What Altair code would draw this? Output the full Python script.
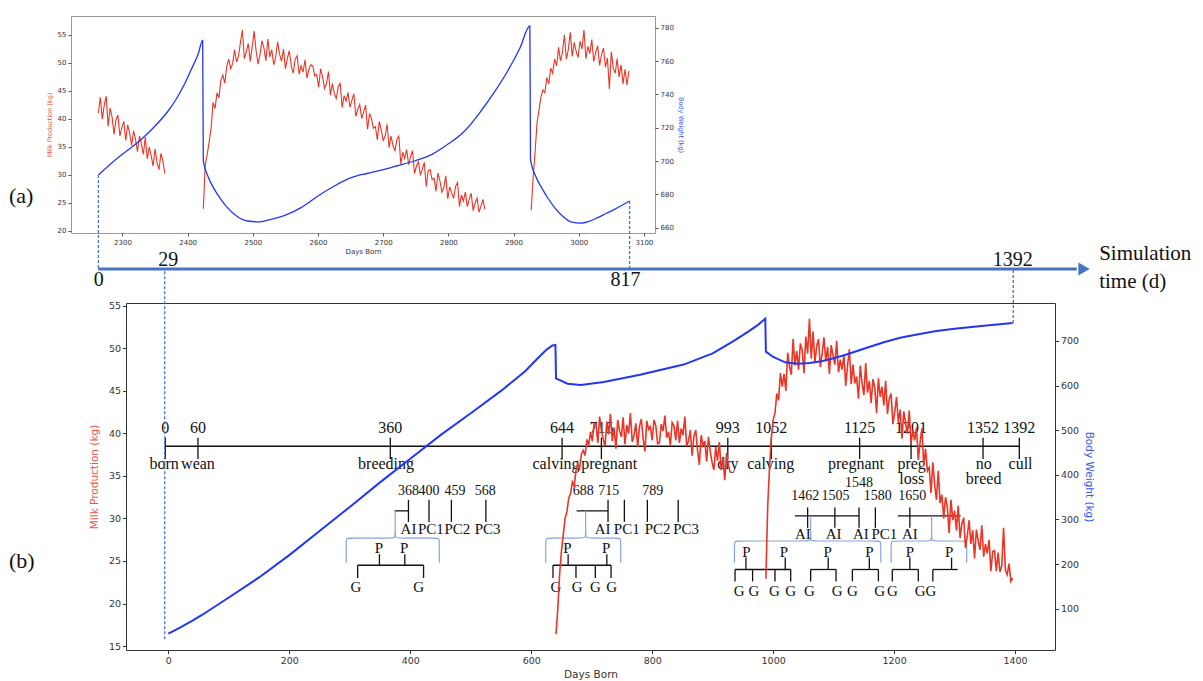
import altair as alt
import pandas as pd

RED = "#ea3527"
BLUE = "#2137f4"
RED_T = "#ee5246"
BLUE_T = "#3a55f2"
GUIDE = "#4673c6"
BRACE = "#86a3db"
INK = "#111111"
AXC = "#333333"
SERIF = "Liberation Serif"
SANS = "DejaVu Sans"

# ======================= panel (a) data =======================
a_bw_day = [2263, 2293, 2310, 2329, 2350, 2370, 2383, 2395, 2405, 2416, 2423, 2424, 2432, 2441,
            2451, 2461, 2475, 2492, 2510, 2523, 2550, 2574, 2600, 2625, 2651, 2675, 2697, 2720,
            2748, 2775, 2799, 2825, 2850, 2870, 2891, 2910, 2925, 2926, 2935, 2943, 2953, 2963,
            2975, 2988, 3003, 3016, 3029, 3042, 3055, 3078]
a_bw = [691.6, 702, 707, 713, 721, 730, 737.5, 746, 754.5, 764, 772.4, 700, 690, 683,
        677, 672, 667, 664, 663.5, 664.5, 667.5, 672, 679, 685, 690, 692.5, 694.5, 697,
        700, 704, 710, 718, 730, 741, 754, 768, 781, 701, 690, 684, 677.5, 672,
        667, 663.5, 662.7, 663.8, 666, 668.5, 671, 676]

a_milk_start = [2263, 2424, 2927]
a_milk_step = 3
a_milk_seg1 = [41.0, 43.8, 39.9, 42.4, 44.0, 38.6, 41.9, 40.3, 37.2, 39.8, 40.6, 36.9, 38.4,
               39.5, 36.1, 38.9, 37.4, 35.2, 37.8, 36.3, 34.1, 36.9, 35.5, 33.6, 36.7, 32.8,
               34.9, 33.4, 31.5, 34.6, 32.1, 30.9, 33.8, 32.4, 30.2]
a_milk_seg2 = [23.9, 31.8, 33.6, 35.9, 38.4, 42.9, 41.8, 44.6, 43.7, 46.9, 47.8, 46.3, 49.4,
               50.6, 48.9, 49.8, 52.3, 50.1, 51.2, 53.6, 55.8, 50.7, 51.9, 53.4, 50.2, 52.8,
               55.6, 52.1, 49.7, 51.4, 53.9, 52.6, 50.3, 54.2, 51.0, 52.3, 49.6, 50.9, 53.7,
               51.5, 50.2, 52.4, 48.9, 50.8, 52.1, 49.3, 48.1, 50.6, 51.2, 47.9, 49.4, 48.3,
               50.5, 47.2, 48.8, 49.6,
               49.4, 47.6, 47.9, 45.6, 48.9, 47.4, 45.4, 46.3, 48.4, 44.2, 46.3, 44.5, 43.6,
               45.7, 46.3, 42.0, 44.1, 43.1, 44.7, 42.0, 43.3, 44.4, 40.4, 41.7, 42.5, 40.0,
               41.2, 42.4, 38.1, 40.9,
               40.0, 38.3, 38.6, 36.2, 39.5, 38.0, 36.1, 36.9, 39.0, 34.8, 36.9, 35.2, 34.2,
               36.3, 36.9,
               31.9, 34.0, 32.9, 34.5, 31.8, 33.2, 34.3, 30.2, 31.5, 32.3, 29.9, 31.0, 32.2,
               27.9, 30.7, 30.9, 29.1, 29.4, 27.0, 30.3, 28.9, 26.9, 27.7, 29.8, 25.7, 27.8,
               26.8, 25.8, 27.9, 28.6, 24.3, 26.4, 25.3, 26.9, 24.3, 25.6,
               26.7, 23.6, 24.9, 25.8, 23.3, 24.4, 25.6, 23.8]
a_milk_seg3 = [23.6, 29.4, 34.0, 39.2, 41.5, 43.9, 45.1, 44.6, 47.3, 46.2, 49.0, 48.1, 50.6,
               49.4, 52.7, 50.3, 51.8, 54.9, 50.6, 52.3, 55.4, 51.1, 53.6, 52.0, 50.9, 53.8,
               52.4, 55.8, 50.7, 52.9, 51.6, 54.1, 50.2, 51.8, 53.0, 49.5, 51.4, 52.6, 49.2,
               50.8, 45.3, 51.9, 49.0, 48.1, 50.7, 47.4, 49.6, 46.2, 48.8, 46.0, 48.5]

a_guide_day = [2263, 3078]
a_guide_bw = [691.6, 676.0]

# ======================= panel (b) data =======================
b_bw_day = [0, 20, 40, 57, 100, 150, 200, 250, 300, 350, 400, 450, 500, 550, 590, 610, 625,
            635, 640, 641, 660, 682, 720, 780, 852, 900, 935, 960, 975, 987, 988, 1000,
            1020, 1040, 1060, 1080, 1100, 1120, 1140, 1160, 1183, 1210, 1240, 1270, 1300,
            1340, 1396]
b_bw = [44, 58, 73, 87, 125, 170, 220, 274, 328, 383, 436, 489, 538, 588, 632, 660, 680,
        690, 691, 616, 604, 601, 608, 624, 647, 672, 700, 722, 736, 750, 676, 664,
        652, 649, 650.5, 654.5, 661, 669, 678, 687, 697, 707, 715, 722, 727.5,
        733, 740]

b_milk_start = [641, 988]
b_milk_step = 3
b_milk_lac1 = [16.4, 19.5, 23.5, 26.2, 28.1, 30.0, 30.8, 32.4, 32.9, 34.3, 33.8, 35.6, 36.4,
               35.9, 37.6, 38.0, 37.4, 39.3, 38.6, 40.2, 39.1, 41.2,
               41.1, 38.9, 42.0, 40.4, 39.3, 38.5, 41.4, 39.9, 42.3, 39.1, 40.7, 38.2, 41.6,
               40.3, 39.6, 41.9, 38.7, 41.0, 40.0, 42.4, 39.0, 39.8, 41.2, 38.4, 40.8, 41.7,
               39.4, 37.9, 41.5, 40.5,
               40.8, 39.2, 41.6, 40.9, 38.8, 38.9, 41.1, 40.3, 42.1, 39.5, 40.2, 38.6, 41.3,
               40.9, 39.2, 41.5, 38.9, 40.6,
               39.8, 42.0, 38.5, 39.1, 40.4, 37.4, 39.7, 40.4, 38.0, 36.3, 39.8, 38.6, 39.1,
               36.7, 39.6, 37.9, 36.6, 35.7, 38.4, 36.8, 39.0, 35.7, 37.1, 34.5, 37.7, 36.3,
               35.4]
b_milk_lac2 = [22.9, 31.5, 36.0, 39.5, 41.6, 42.4, 44.7, 43.9,
               47.1, 45.5, 47.0, 45.0, 49.5, 47.9, 46.9, 51.1, 48.0, 49.7, 47.5, 50.6, 49.8,
               47.1, 51.4, 49.4, 53.5, 48.8, 52.0, 48.3, 50.3, 51.1, 47.8, 49.4, 51.3, 48.5,
               50.2, 47.0, 50.4, 49.2, 48.1, 50.9, 47.2, 48.7, 47.5, 49.2, 45.6, 48.0, 49.9,
               45.8,
               48.1, 45.9, 46.7, 44.1, 48.0, 45.9, 44.5, 48.3, 44.8, 46.2, 43.6, 46.4, 45.4,
               42.4, 46.5, 44.3, 45.5, 43.3, 46.2, 42.3, 44.1, 44.7, 41.1, 42.5, 44.3, 41.3,
               42.8, 39.4, 42.6, 41.2, 40.0, 42.7, 38.9, 40.4, 39.2, 40.7, 36.9, 39.0, 40.6,
               36.2,
               38.2, 35.6, 36.0, 33.0, 36.6, 34.0, 32.2, 35.6, 31.8, 32.8, 30.0, 32.5, 31.3,
               28.3, 32.2, 29.8, 30.9, 28.6, 31.5, 27.7, 29.4, 30.1, 26.5, 28.0, 29.8, 27.0,
               28.6, 25.3, 28.7, 27.4, 26.3, 29.2, 25.5, 27.0, 25.9, 27.5, 23.8, 26.1, 26.2,
               23.8, 26.0, 23.7, 24.4, 28.9, 23.9, 23.4, 24.7, 22.6, 23.0]

# life-event timeline inside (b): label, drawn position (d)
ev_num = ["0", "60", "360", "644", "715", "993", "1052", "1125", "1201", "1352", "1392"]
ev_pos = [-5, 49, 367, 651, 716, 925, 997, 1143, 1228, 1347, 1407]
ev_name = ["born", "wean", "breeding", "calving", "pregnant", "dry", "calving", "pregnant",
           "preg\nloss", "no\nbreed", "cull"]
ev_name_pos = [-7, 49, 360, 641, 729, 925, 996, 1137, 1229, 1348, 1409]
ev_line_kg, ev_tick_top, ev_tick_bot, ev_num_kg, ev_name_kg = 38.5, 39.5, 37.0, 40.7, 37.35

# breeding sub-events
sub_num = ["368", "400", "459", "568", "688", "715", "789", "1462", "1505", "1548", "1580", "1650"]
sub_num_pos = [397, 431, 474, 524, 686, 728, 801, 1053, 1103, 1142, 1173, 1230]
sub_num_kg = [33.2] * 7 + [32.7, 32.7, 34.2, 32.7, 32.7]
sub_lab = ["AI", "PC1", "PC2", "PC3", "AI", "PC1", "PC2", "PC3", "AI", "AI", "AI", "PC1", "AI"]
sub_lab_pos = [397, 434, 478, 528, 718, 758, 809, 856, 1049, 1100, 1145, 1184, 1226]
sub_lab_kg = [28.8] * 8 + [28.2] * 5
sub_tick_pos = [397, 431, 468, 525, 727, 754, 792, 843, 1057, 1102, 1142, 1169, 1226]
sub_tick_top = [32.2] * 8 + [31.3] * 5
sub_tick_bot = [29.6] * 8 + [28.9] * 5
sub_bar_left = [374, 675, 1036, 1206]
sub_bar_right = [397, 727, 1142, 1310]
sub_bar_kg = [30.9, 30.9, 30.3, 30.3]

# braces
br_left = [294, 624, 936, 1195]
br_notch = [375, 690, 1062, 1262]
br_right = [448, 748, 1178, 1320]
br_top = [27.7, 27.7, 27.35, 27.35]
br_end = [24.8, 24.8, 24.8, 24.8]
br_tip = [30.9, 30.9, 30.3, 30.3]

# P / G trees
p_pos = [348, 390, 660, 724, 956, 1018, 1090, 1159, 1226, 1291]
p_kg = [26.5] * 4 + [26.1] * 6
p_tick_x = [349, 391, 661, 725, 955, 1020, 1091, 1159, 1226, 1295]
p_tick_top = [25.8] * 4 + [25.4] * 6
p_tick_bot = [24.5] * 4 + [24.0] * 6
g_bar_left = [313, 636, 937, 1062, 1131, 1197, 1264]
g_bar_right = [422, 732, 1029, 1104, 1174, 1240, 1305]
g_bar_kg = [24.5, 24.5, 24.0, 24.0, 24.0, 24.0, 24.0]
g_tick_x = [313, 422, 636, 674, 706, 732, 937, 966, 1003, 1029, 1062, 1104, 1131, 1174,
            1197, 1240, 1264]
g_tick_top = [24.5] * 6 + [24.0] * 11
g_tick_bot = [23.0] * 6 + [22.6] * 11
g_lab_x = [310, 414, 641, 676, 706, 733, 944, 968, 1002, 1029, 1060, 1106, 1131, 1176,
           1197, 1243, 1261]
g_lab_kg = [21.9] * 6 + [21.5] * 11

# simulation-time arrow
tl_start, tl_end, tl_head = -116, 1502, 1514
tl_below_txt, tl_below_pos = ["0", "817"], [-115, 756]
tl_above_txt, tl_above_pos = ["29", "1392"], [0, 1396]
tl_sim_pos = 1539
b_guide_day = [-6, 1397]
b_guide_kg = [15.8, 53.0]

# ======================= build tables =======================
a_bw_df = pd.DataFrame({"day": a_bw_day, "bw": a_bw})
rows = []
for s, (st, vals) in enumerate(zip(a_milk_start, [a_milk_seg1, a_milk_seg2, a_milk_seg3])):
    for i, v in enumerate(vals):
        rows.append({"day": st + a_milk_step * i, "milk": v, "seg": s})
a_milk_df = pd.DataFrame(rows)
a_guide_df = pd.DataFrame({"day": a_guide_day, "bw": a_guide_bw})

b_bw_df = pd.DataFrame({"day": b_bw_day, "bw": b_bw})
rows = []
for s, (st, vals) in enumerate(zip(b_milk_start, [b_milk_lac1, b_milk_lac2])):
    for i, v in enumerate(vals):
        rows.append({"day": st + b_milk_step * i, "milk": v, "seg": s})
b_milk_df = pd.DataFrame(rows)
b_guide_df = pd.DataFrame({"x": b_guide_day, "y": b_guide_kg})

segs = [(ev_pos[0], ev_pos[-1], ev_line_kg, ev_line_kg)]
segs += [(p, p, ev_tick_top, ev_tick_bot) for p in ev_pos]
segs += [(l, r, k, k) for l, r, k in zip(sub_bar_left, sub_bar_right, sub_bar_kg)]
segs += [(x, x, t, b) for x, t, b in zip(sub_tick_pos, sub_tick_top, sub_tick_bot)]
segs += [(x, x, t, b) for x, t, b in zip(p_tick_x, p_tick_top, p_tick_bot)]
segs += [(l, r, k, k) for l, r, k in zip(g_bar_left, g_bar_right, g_bar_kg)]
segs += [(x, x, t, b) for x, t, b in zip(g_tick_x, g_tick_top, g_tick_bot)]
seg_df = pd.DataFrame(segs, columns=["x", "x2", "y", "y2"])

brows = []
for b, (l, n, r, tp, en, tip) in enumerate(zip(br_left, br_notch, br_right, br_top, br_end, br_tip)):
    pts = [(l, en), (l, en), (l, tp - 0.7), (l, tp), (l + 6, tp), (n - 6, tp), (n, tp),
           (n, tp + 0.7), (n, tip), (n, tip), (n, tip), (n, tp + 0.7), (n, tp), (n + 6, tp),
           (r - 6, tp), (r, tp), (r, tp - 0.7), (r, en), (r, en)]
    for o, (x, y) in enumerate(pts):
        brows.append({"x": x, "y": y, "b": b, "o": o})
brace_df = pd.DataFrame(brows)

ev_num_df = pd.DataFrame({"x": ev_pos, "y": [ev_num_kg] * len(ev_pos), "t": ev_num})
ev_name_df = pd.DataFrame({"x": ev_name_pos, "y": [ev_name_kg] * len(ev_name_pos), "t": ev_name})
sub_num_df = pd.DataFrame({"x": sub_num_pos, "y": sub_num_kg, "t": sub_num})
lab15_df = pd.DataFrame({
    "x": sub_lab_pos + p_pos + g_lab_x,
    "y": sub_lab_kg + p_kg + g_lab_kg,
    "t": sub_lab + ["P"] * len(p_pos) + ["G"] * len(g_lab_x),
})

# ======================= panel (a) chart =======================
AXA_X = alt.Axis(values=list(range(2300, 3101, 100)), labelFontSize=7, titleFontSize=7,
                 titleFontWeight="normal", tickSize=3, labelPadding=2, titlePadding=2,
                 domain=False, grid=False, labelColor=AXC, titleColor=AXC, tickColor="#555",
                 labelFont=SANS, titleFont=SANS, format="d")
AXA_Y = alt.Axis(orient="left", values=list(range(20, 56, 5)), labelFontSize=7, titleFontSize=6.5,
                 titleFontWeight="normal", tickSize=3, labelPadding=2, titlePadding=5,
                 domain=False, grid=False, labelColor=AXC, titleColor=RED_T, tickColor="#555",
                 labelFont=SANS, titleFont=SANS)
AXA_R = alt.Axis(orient="right", values=list(range(660, 781, 20)), labelFontSize=7, titleFontSize=6.5,
                 titleFontWeight="normal", tickSize=3, labelPadding=2, titlePadding=4,
                 domain=False, grid=False, labelColor=AXC, titleColor=BLUE_T, tickColor="#555",
                 labelFont=SANS, titleFont=SANS)
XA_S = alt.Scale(domain=[2221, 3117], nice=False, zero=False)
YA_M = alt.Scale(domain=[19.6, 58.3], nice=False, zero=False)
YA_B = alt.Scale(domain=[656.8, 787], nice=False, zero=False)


def xa(f):
    return alt.X(f, scale=XA_S, axis=AXA_X, title="Days Born")


def ya_bw(f):
    return alt.Y(f, scale=YA_B, axis=AXA_R, title="Body Weight (kg)")


a_milk_layer = alt.Chart(a_milk_df).mark_line(color=RED, strokeWidth=1.1).encode(
    x=xa("day:Q"),
    y=alt.Y("milk:Q", scale=YA_M, axis=AXA_Y, title="Milk Production (kg)"),
    detail="seg:N")
a_bw_layer = alt.Chart(a_bw_df).mark_line(color=BLUE, strokeWidth=1.3, interpolate="monotone").encode(
    x=xa("day:Q"), y=ya_bw("bw:Q"))
a_guides = alt.Chart(a_guide_df).mark_rule(color=GUIDE, strokeWidth=1.3, strokeDash=[3, 2]).encode(
    x=xa("day:Q"), y=ya_bw("bw:Q"), y2=alt.value(253))
a_label = alt.Chart(pd.DataFrame({"t": ["(a)"]})).mark_text(
    font=SERIF, fontSize=22, align="left", baseline="middle", color=INK).encode(
    text="t:N", x=alt.value(-62), y=alt.value(180))

top = alt.layer(a_milk_layer, alt.layer(a_bw_layer, a_guides), a_label).resolve_scale(
    y="independent").properties(width=584, height=217, view=alt.ViewBackground(stroke="#999999"))

# ======================= panel (b) chart =======================
AXB_X = alt.Axis(values=list(range(0, 1401, 200)), labelFontSize=9.5, titleFontSize=10.5,
                 titleFontWeight="normal", tickSize=3.5, labelPadding=2, titlePadding=4,
                 domain=False, grid=False, labelColor=AXC, titleColor=AXC, tickColor=AXC,
                 labelFont=SANS, titleFont=SANS, format="d")
AXB_Y = alt.Axis(orient="left", values=list(range(15, 56, 5)), labelFontSize=9.5, titleFontSize=10.5,
                 titleFontWeight="normal", tickSize=3.5, labelPadding=2, titlePadding=9,
                 domain=False, grid=False, labelColor=AXC, titleColor=RED_T, tickColor=AXC,
                 labelFont=SANS, titleFont=SANS)
AXB_R = alt.Axis(orient="right", values=list(range(100, 701, 100)), labelFontSize=9.5, titleFontSize=10.5,
                 titleFontWeight="normal", tickSize=3.5, labelPadding=2, titlePadding=5,
                 domain=False, grid=False, labelColor=AXC, titleColor=BLUE_T, tickColor=AXC,
                 labelFont=SANS, titleFont=SANS)
XB_S = alt.Scale(domain=[-70, 1466], nice=False, zero=False)
YB_M = alt.Scale(domain=[14.53, 55.35], nice=False, zero=False)
YB_B = alt.Scale(domain=[7.4, 785], nice=False, zero=False)


def xb(f):
    return alt.X(f, scale=XB_S, axis=AXB_X, title="Days Born")


def yb(f):
    return alt.Y(f, scale=YB_M, axis=AXB_Y, title="Milk Production (kg)")


def txt(df, size, baseline="middle", align="center", line_height=16):
    return alt.Chart(df).mark_text(font=SERIF, fontSize=size, baseline=baseline, align=align,
                                   color=INK, lineBreak="\n", lineHeight=line_height).encode(
        x=xb("x:Q"), y=yb("y:Q"), text="t:N")


seg_layer = alt.Chart(seg_df).mark_rule(color=INK, strokeWidth=1.3).encode(
    x=xb("x:Q"), x2="x2:Q", y=yb("y:Q"), y2="y2:Q")
brace_layer = alt.Chart(brace_df).mark_line(color=BRACE, strokeWidth=1.2, interpolate="basis").encode(
    x=xb("x:Q"), y=yb("y:Q"), detail="b:N", order="o:Q")
ev_num_layer = txt(ev_num_df, 16)
ev_name_layer = txt(ev_name_df, 16, baseline="top", line_height=15)
sub_num_layer = txt(sub_num_df, 14)
lab15_layer = txt(lab15_df, 15)

b_guides = alt.Chart(b_guide_df).mark_rule(color=GUIDE, strokeWidth=1.3, strokeDash=[3, 2]).encode(
    x=xb("x:Q"), y=yb("y:Q"), y2=alt.value(-34))
tl_rule = alt.Chart(pd.DataFrame({"x": [tl_start], "x2": [tl_end]})).mark_rule(
    color=GUIDE, strokeWidth=3).encode(x=xb("x:Q"), x2="x2:Q", y=alt.value(-34))
tl_arrow = alt.Chart(pd.DataFrame({"x": [tl_head]})).mark_point(
    shape="triangle-right", filled=True, size=170, color=GUIDE, opacity=1).encode(
    x=xb("x:Q"), y=alt.value(-34))
tl_below = alt.Chart(pd.DataFrame({"x": tl_below_pos, "t": tl_below_txt})).mark_text(
    font=SERIF, fontSize=20, baseline="middle", color=INK).encode(
    x=xb("x:Q"), y=alt.value(-23), text="t:N")
tl_above = alt.Chart(pd.DataFrame({"x": tl_above_pos, "t": tl_above_txt})).mark_text(
    font=SERIF, fontSize=20, baseline="middle", color=INK).encode(
    x=xb("x:Q"), y=alt.value(-43), text="t:N")
tl_sim = alt.Chart(pd.DataFrame({"x": [tl_sim_pos], "t": ["Simulation\ntime (d)"]})).mark_text(
    font=SERIF, fontSize=21, baseline="top", align="left", color=INK, lineBreak="\n",
    lineHeight=28).encode(x=xb("x:Q"), y=alt.value(-60), text="t:N")

b_milk_layer = alt.Chart(b_milk_df).mark_line(color=RED, strokeWidth=1.6).encode(
    x=xb("day:Q"), y=yb("milk:Q"), detail="seg:N")
b_bw_layer = alt.Chart(b_bw_df).mark_line(color=BLUE, strokeWidth=2).encode(
    x=xb("day:Q"), y=alt.Y("bw:Q", scale=YB_B, axis=AXB_R, title="Body Weight (kg)"))

inner = alt.layer(seg_layer, brace_layer, ev_num_layer, ev_name_layer, sub_num_layer, lab15_layer,
                  b_guides, tl_rule, tl_arrow, tl_below, tl_above, tl_sim, b_milk_layer)
bottom = alt.layer(inner, b_bw_layer).resolve_scale(y="independent").properties(width=929, height=347)

spacer = alt.Chart(pd.DataFrame({"t": ["(b)"]})).mark_text(
    font=SERIF, fontSize=22, align="left", baseline="middle", color=INK).encode(
    text="t:N", x=alt.value(-62), y=alt.value(258)).properties(
    width=55, height=347, view=alt.ViewBackground(stroke="transparent"))

chart = alt.vconcat(
    top,
    alt.hconcat(spacer, bottom, spacing=0, bounds="flush"),
    spacing=70, bounds="flush",
).properties(
    padding={"left": 8, "top": 15, "right": 0, "bottom": 0},
    background="white",
).configure_view(stroke=AXC, strokeWidth=1)

chart.save("out.html", embed_options={"renderer": "svg", "actions": False})
